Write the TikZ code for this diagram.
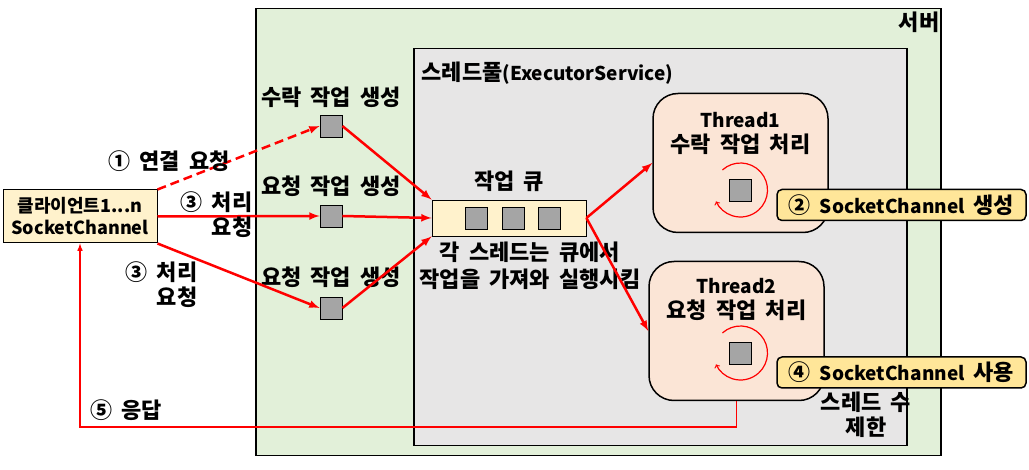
\documentclass[tikz,border=0pt]{standalone}
\usepackage{fontspec}
\setmainfont{Noto Sans CJK KR}[WordSpace=1.8]
\definecolor{srvgreen}{HTML}{E2F0D9}
\definecolor{poolgray}{HTML}{E7E6E6}
\definecolor{clyellow}{HTML}{FFF2CC}
\definecolor{thpink}{HTML}{FBE5D6}
\definecolor{tagyellow}{HTML}{FFE699}
\definecolor{sqgray}{HTML}{A5A5A5}
\newcommand\eng[1]{{\fontsize{19}{25}\selectfont #1}}
\begin{document}
\begin{tikzpicture}[x=1pt,y=-1pt]
 \tikzstyle{every node} = [font=\bfseries\fontsize{22}{25}\selectfont];
 \tikzstyle{area} = [draw, line width=1.5pt, anchor=north west];
 \tikzstyle{sq} = [draw, fill=sqgray, minimum size=22, line width=0.8pt];
 \tikzstyle{worker} = [draw, rounded corners=25, fill=thpink, line width=1.5pt, minimum width=175, minimum height=139];
 \tikzstyle{tag} = [draw, rounded corners=5, fill=tagyellow, line width=1.5pt, minimum width=249, minimum height=31];
 \tikzstyle{flow} = [->, >=latex, red, line width=2.5pt];
 \tikzstyle{loop} = [->, red, line width=1.2pt];
\useasboundingbox (0,0) rectangle (1029,470);
\node [area, fill=srvgreen, minimum width=685, minimum height=447] (v1) at (255,8) {};
\node [anchor=north east] (v2) at (943,8) {서버};
\node [area, fill=poolgray, minimum width=493, minimum height=397] (v3) at (413,48) {};
\node [anchor=west] (v4) at (418,73) {스레드풀\eng{(ExecutorService)}};

\node [draw, fill=clyellow, line width=1pt, minimum width=154, minimum height=53, align=center, font=\bfseries\fontsize{18}{24}\selectfont] (cl) at (80,216.5) {클라이언트1...n\\[-2pt]SocketChannel};

\node (l1) at (331,97) {수락 작업 생성};
\node [sq] (s1) at (331,126) {};
\node (l2) at (331,186) {요청 작업 생성};
\node [sq] (s2) at (331,216) {};
\node (l3) at (331,277) {요청 작업 생성};
\node [sq] (s3) at (331,308) {};

\node (ql) at (509,181) {작업 큐};
\node [draw, fill=clyellow, line width=0.8pt, minimum width=154, minimum height=36] (q) at (509,218) {};
\node [sq] (q1) at (476.5,218) {};
\node [sq] (q2) at (513,218) {};
\node [sq] (q3) at (549,218) {};
\node [align=center, font=\bfseries\fontsize{22}{27}\selectfont] (note) at (530,266) {각 스레드는 큐에서\\작업을 가져와 실행시킴};

\node [worker] (t1) at (740.5,163) {};
\node [align=center] (t1txt) at (740.5,133) {\eng{Thread1}\\수락 작업 처리};
\node [sq] (t1s) at (740.5,190) {};
\draw [loop] (t1s.center) ++(-132:27) arc [start angle=-132, end angle=155, radius=27];

\node [worker] (t2) at (736.5,331) {};
\node [align=center] (t2txt) at (736.5,299) {\eng{Thread2}\\요청 작업 처리};
\node [sq] (t2s) at (740.5,353) {};
\draw [loop] (t2s.center) ++(-132:27) arc [start angle=-132, end angle=155, radius=27];

\node [tag] (g1) at (901.5,205) {② \eng{SocketChannel} 생성};
\node [tag] (g2) at (901.5,372.5) {④ \eng{SocketChannel} 사용};
\node [align=center] (lim) at (866,415) {스레드 수\\제한};

\draw [flow, dash pattern=on 9pt off 5pt] (cl.north east) -- (s1.west);
\node (c1) at (169,161) {① 연결 요청};
\draw [flow] (cl.east) -- (s2.west);
\node [align=right, anchor=east] (c2) at (256,215) {③ 처리\\요청};
\draw [flow] (cl.south east) -- (s3.west);
\node [align=right, anchor=east] (c3) at (201,285) {③ 처리\\요청};

\draw [flow] (s1.east) -- (q.north west);
\draw [flow] (s2.east) -- (q.west);
\draw [flow] (s3.east) -- (q.south west);
\draw [flow] (q.east) -- (t1.west);
\draw [flow] (q.east) -- (t2.west);

\coordinate (bk) at (80,427);
\draw [->, >=latex, red, line width=1.5pt] (t2.south) |- (bk) -- (cl.south);
\node (c5) at (126,410) {⑤ 응답};
\end{tikzpicture}
\end{document}
